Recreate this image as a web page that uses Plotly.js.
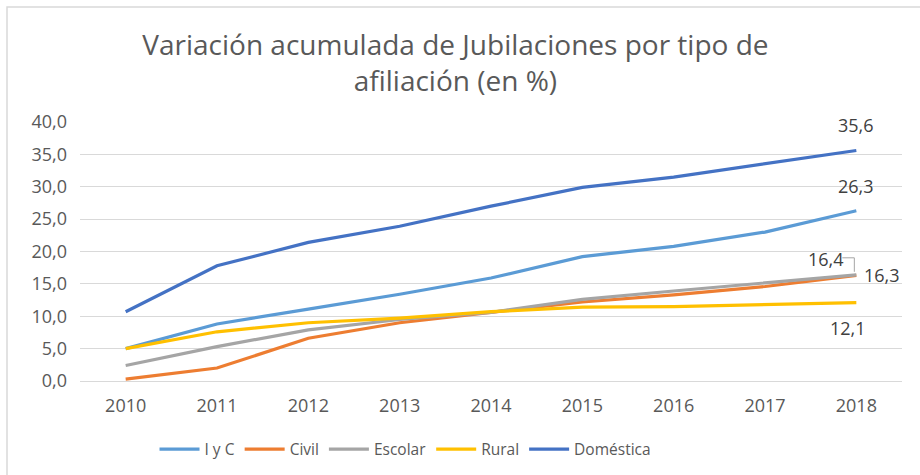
<!DOCTYPE html>
<html>
<head>
<meta charset="utf-8">
<script src="https://cdn.plot.ly/plotly-3.0.1.min.js"></script>
<style>html,body{margin:0;padding:0;background:#fff;}#chart{width:920px;height:475px;}</style>
</head>
<body>
<div id="chart"></div>
<script>
const years = ['2010','2011','2012','2013','2014','2015','2016','2017','2018'];
const iyc = [5.0, 8.8, 11.1, 13.4, 15.9, 19.2, 20.8, 23.0, 26.3];
const civil = [0.3, 2.0, 6.6, 9.0, 10.6, 12.2, 13.3, 14.6, 16.3];
const escolar = [2.4, 5.3, 7.9, 9.5, 10.6, 12.6, 13.9, 15.2, 16.4];
const rural = [5.0, 7.6, 9.0, 9.7, 10.7, 11.4, 11.5, 11.8, 12.1];
const domestica = [10.7, 17.8, 21.4, 23.9, 27.0, 29.9, 31.5, 33.6, 35.6];
const seriesNames = ['I y C', 'Civil', 'Escolar', 'Rural', 'Doméstica'];
const colors = ['#5B9BD5', '#ED7D31', '#A5A5A5', '#FFC000', '#4472C4'];
const allSeries = [iyc, civil, escolar, rural, domestica];

const fmt = v => v.toFixed(1).replace('.', ',');
const traces = allSeries.map((s, i) => ({
  x: years, y: s, type: 'scatter', mode: 'lines', name: seriesNames[i],
  line: {color: colors[i], width: 3.2}
}));

const lastIdx = years.length - 1;
const font = {family: 'Open Sans, sans-serif', size: 18, color: '#404040'};
const annotations = [
  {xref: 'x', yref: 'y', x: lastIdx, y: domestica[lastIdx], text: fmt(domestica[lastIdx]), showarrow: false, yshift: 25, font},
  {xref: 'x', yref: 'y', x: lastIdx, y: iyc[lastIdx], text: fmt(iyc[lastIdx]), showarrow: false, yshift: 25, font},
  {xref: 'x', yref: 'y', x: lastIdx, y: escolar[lastIdx], text: fmt(escolar[lastIdx]), showarrow: false, xshift: -30, yshift: 16, font},
  {xref: 'x', yref: 'y', x: lastIdx, y: civil[lastIdx], text: fmt(civil[lastIdx]), showarrow: false, xshift: 26, yshift: 0, font},
  {xref: 'x', yref: 'y', x: lastIdx, y: rural[lastIdx], text: fmt(rural[lastIdx]), showarrow: false, xshift: -8, yshift: -25, font}
];

const layout = {
  width: 920, height: 475,
  margin: {l: 80, r: 18, t: 122, b: 94, autoexpand: false},
  paper_bgcolor: '#ffffff', plot_bgcolor: '#ffffff',
  separators: ',.',
  font: {family: 'Open Sans, sans-serif', color: '#595959', size: 15},
  title: {
    text: 'Variación acumulada de Jubilaciones por tipo de<br>afiliación (en %)',
    font: {family: 'Open Sans, sans-serif', size: 28, color: '#595959'},
    x: 0.495, xanchor: 'center', y: 0.885, yanchor: 'middle', yref: 'container'
  },
  xaxis: {
    type: 'category', range: [-0.5, 8.5], showgrid: false, zeroline: false,
    showline: false, ticks: '', ticklabelstandoff: 12, tickfont: {size: 18, color: '#595959'}
  },
  yaxis: {
    range: [0, 40], dtick: 5, tickformat: '.1f', showgrid: true, gridcolor: '#d9d9d9',
    gridwidth: 1, zeroline: true, zerolinecolor: '#d9d9d9', zerolinewidth: 1, showline: false,
    ticks: '', ticklabelstandoff: 12, tickfont: {size: 18, color: '#595959'}
  },
  legend: {
    orientation: 'h', x: 0.396, xanchor: 'center', y: -0.265, yanchor: 'middle',
    font: {size: 15.5, color: '#595959'}, itemwidth: 40
  },
  annotations: annotations,
  shapes: [
    {type: 'rect', xref: 'paper', yref: 'paper', x0: -0.0888, x1: 1.2, y0: -0.6, y1: 1.444,
     line: {color: '#d9d9d9', width: 1.5}, fillcolor: 'rgba(0,0,0,0)', layer: 'below'}
  ],
  showlegend: true
};
Plotly.newPlot('chart', traces, layout, {displayModeBar: false, staticPlot: true}).then(() => {
  Plotly.relayout('chart', {shapes: layout.shapes.concat([
    {type: 'path', xref: 'x', yref: 'y', xsizemode: 'pixel', ysizemode: 'pixel',
     xanchor: lastIdx, yanchor: escolar[lastIdx], path: 'M -14 17 L -2 17 L -2 3',
     line: {color: '#a5a5a5', width: 1}}
  ])});
});
</script>
</body>
</html>
